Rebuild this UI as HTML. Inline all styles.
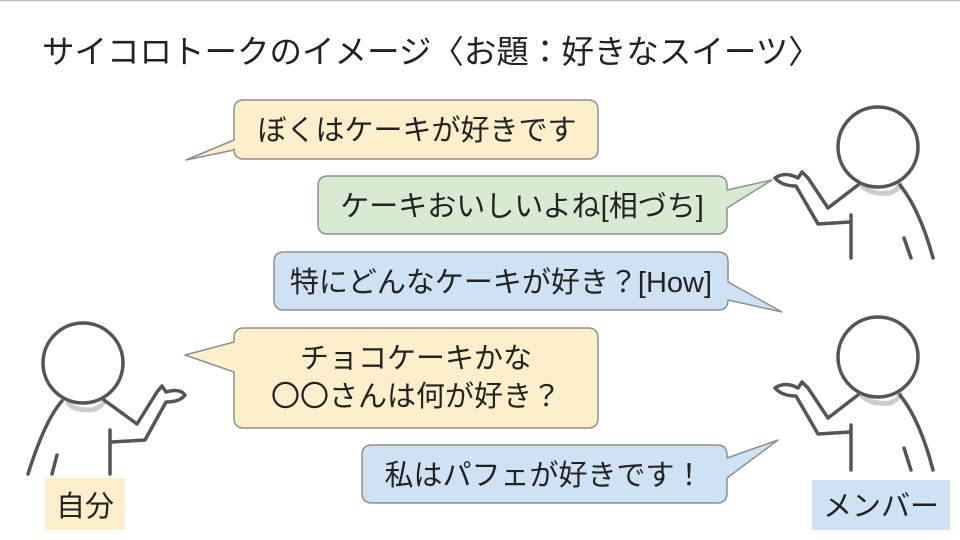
<!DOCTYPE html>
<html><head><meta charset="utf-8"><style>
html,body{margin:0;padding:0;background:#fff;}
svg{display:block;}
text{font-family:"Liberation Sans","Noto Sans CJK JP",sans-serif;fill:#222;}
</style></head><body>
<svg width="960" height="540" viewBox="0 0 960 540">
<line x1="0" y1="0.5" x2="960" y2="0.5" stroke="#bbb" stroke-width="1.5"/>
<text x="42" y="63" font-size="32.5">サイコロトークのイメージ〈お題：好きなスイーツ〉</text>

<g stroke="#8f8f8f" stroke-width="1.5" stroke-linejoin="round">
<path d="M244,100 H588 Q598,100 598,110 V149 Q598,159 588,159 H244 Q234,159 234,149 V150 L186,160 L234,140 V110 Q234,100 244,100 Z" fill="#fdefcc"/>
<path d="M328,176 H717 Q727,176 727,186 V190 L772,180 L727,208 V224 Q727,234 717,234 H328 Q318,234 318,224 V186 Q318,176 328,176 Z" fill="#d9ead3"/>
<path d="M284,252 H718 Q728,252 728,262 V282 L782,312 L728,300 Q728,310 718,310 H284 Q274,310 274,300 V262 Q274,252 284,252 Z" fill="#cfe2f3"/>
<path d="M244,328 H588 Q598,328 598,338 V418 Q598,428 588,428 H244 Q234,428 234,418 V372 L185,355 L234,342 V338 Q234,328 244,328 Z" fill="#fdefcc"/>
<path d="M372,445 H717 Q727,445 727,455 V458 L778,440 L727,478 V493 Q727,503 717,503 H372 Q362,503 362,493 V455 Q362,445 372,445 Z" fill="#cfe2f3"/>
</g>
<g font-size="29">
<text x="417" y="140" text-anchor="middle">ぼくはケーキが好きです</text>
<text x="522" y="216" text-anchor="middle">ケーキおいしいよね[相づち]</text>
<text x="501" y="292" text-anchor="middle">特にどんなケーキが好き？[How]</text>
<text x="416" y="368" text-anchor="middle">チョコケーキかな</text>
<text x="416" y="406" text-anchor="middle">〇〇さんは何が好き？</text>
<text x="544" y="485" text-anchor="middle">私はパフェが好きです！</text>
</g>

<rect x="45" y="478" width="80" height="52" fill="#fdefcc"/>
<text x="85" y="516" font-size="29" text-anchor="middle">自分</text>
<rect x="812" y="480" width="138" height="50" fill="#cfe2f3"/>
<text x="881" y="516" font-size="29" text-anchor="middle">メンバー</text>

<g fill="none" stroke="#555" stroke-width="3.5" stroke-linecap="round" stroke-linejoin="round">
<path d="M68,403 Q74,410 88,410 Q98,410 104,402" stroke="#ccc" stroke-width="5"/>
<circle cx="83" cy="363" r="40" fill="#fff"/>
<path d="M62,401 Q45,420 28,474"/>
<path d="M57,455 L52,474"/>
<path d="M104,400 L137,424 L157,392 L162,386 L166,392 Q180,388 185,395 Q180,402 166,402 L145,440 L112,442"/>
<path d="M110,430 V474"/>
<path d="M862,186 Q872,195 890,193 Q898,190 900,184" stroke="#ccc" stroke-width="5"/>
<circle cx="878" cy="147" r="40" fill="#fff"/>
<path d="M900,185 Q920,210 933,258"/>
<path d="M904,238 L911,258"/>
<path d="M858,185 L828,208 L808,178 L802,172 L798,178 Q785,171 775,178 Q782,186 796,186 L818,224 L850,222"/>
<path d="M851,215 V258"/>
<path d="M862,396 Q872,405 890,403 Q898,400 900,394" stroke="#ccc" stroke-width="5"/>
<circle cx="878" cy="357" r="40" fill="#fff"/>
<path d="M900,395 Q920,420 933,470"/>
<path d="M904,448 L911,470"/>
<path d="M858,395 L828,418 L808,388 L802,382 L798,388 Q785,381 775,388 Q782,396 796,396 L818,434 L850,432"/>
<path d="M851,425 V470"/>
</g>
</svg>
</body></html>
